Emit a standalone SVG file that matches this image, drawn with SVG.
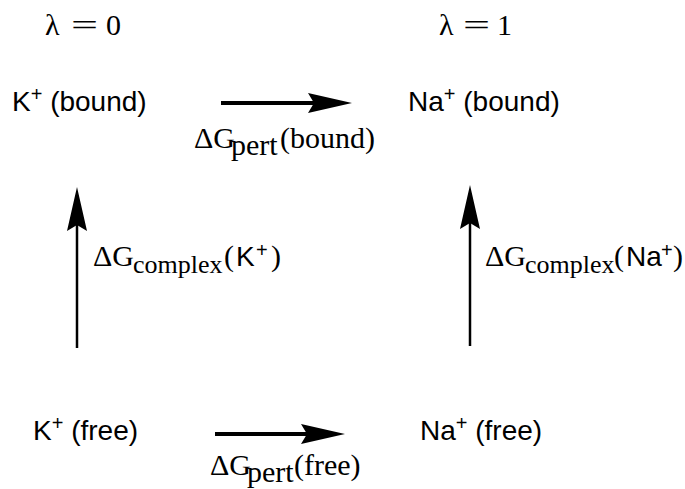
<svg xmlns="http://www.w3.org/2000/svg" width="685" height="489" viewBox="0 0 685 489">
<style>
.sans{font-family:"Liberation Sans",Arial,sans-serif;font-size:28px;fill:#000}
.serif{font-family:"Liberation Serif","Times New Roman",serif;font-size:30px;fill:#000}
.sub{font-size:26px}
.psub{font-size:30px}
.sup{font-size:20px}
.hl{stroke:#000;stroke-width:4;fill:none}
.vl{stroke:#000;stroke-width:2.5;fill:none}
</style>
<defs>
<marker id="head" viewBox="-8 -12 50 24" refX="0" refY="0" markerWidth="50" markerHeight="24" markerUnits="userSpaceOnUse" orient="auto">
<path d="M0,0 L-6,-10 L38,0 L-6,10 Z" fill="#000"/>
</marker>
</defs>
<rect width="685" height="489" fill="#fff"/>
<g id="lambda0">
<text class="serif" x="45" y="35">λ</text>
<text class="serif" x="0" y="35" transform="translate(71,0) scale(1.6,1)">=</text>
<text class="serif" x="106" y="35">0</text>
</g>
<g id="lambda1">
<text class="serif" x="439" y="35">λ</text>
<text class="serif" x="0" y="35" transform="translate(463,0) scale(1.6,1)">=</text>
<text class="serif" x="497" y="35">1</text>
</g>
<g id="k-bound">
<text class="sans" x="12" y="111">K<tspan class="sup" dy="-10">+</tspan><tspan dy="10"> (bound)</tspan></text>
</g>
<g id="na-bound">
<text class="sans" x="408" y="111">Na<tspan class="sup" dy="-10">+</tspan><tspan dy="10"> (bound)</tspan></text>
</g>
<g id="k-free">
<text class="sans" x="33" y="440">K<tspan class="sup" dy="-10">+</tspan><tspan dy="10"> (free)</tspan></text>
</g>
<g id="na-free">
<text class="sans" x="420" y="440">Na<tspan class="sup" dy="-10">+</tspan><tspan dy="10"> (free)</tspan></text>
</g>
<g id="connectors">
<g id="pert-bound">
<path class="hl" d="M221,103 H314" marker-end="url(#head)"/>
<text class="serif" x="194" y="148">ΔG</text>
<text class="serif psub" x="231" y="155">pert</text>
<text class="serif" x="280" y="148">(bound)</text>
</g>
<g id="pert-free">
<path class="hl" d="M215,434 H307" marker-end="url(#head)"/>
<text class="serif" x="210" y="475">ΔG</text>
<text class="serif psub" x="247" y="482">pert</text>
<text class="serif" x="294" y="475">(free)</text>
</g>
<g id="complex-k">
<path class="vl" d="M77,348 V225" marker-end="url(#head)"/>
<text class="serif" x="93" y="266">ΔG</text>
<text class="serif sub" x="133" y="273">complex</text>
<text class="serif" x="224" y="266">(</text>
<text class="sans" x="236" y="266">K</text>
<text class="sans sup" x="256" y="257">+</text>
<text class="serif" x="271" y="266">)</text>
</g>
<g id="complex-na">
<path class="vl" d="M470,346 V223" marker-end="url(#head)"/>
<text class="serif" x="485" y="266">ΔG</text>
<text class="serif sub" x="525" y="273">complex</text>
<text class="serif" x="614" y="266">(</text>
<text class="sans" x="626" y="266">Na</text>
<text class="sans sup" x="661" y="257">+</text>
<text class="serif" x="673" y="266">)</text>
</g>
</g>
</svg>
